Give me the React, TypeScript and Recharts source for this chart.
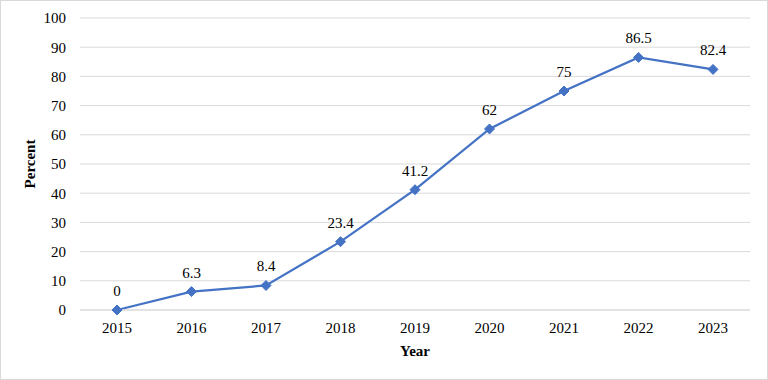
import { LineChart, Line, XAxis, YAxis, CartesianGrid } from 'recharts'

const years = ['2015', '2016', '2017', '2018', '2019', '2020', '2021', '2022', '2023']
const percent = [0, 6.3, 8.4, 23.4, 41.2, 62, 75, 86.5, 82.4]
const yTicks = [0, 10, 20, 30, 40, 50, 60, 70, 80, 90, 100]

const data = years.map((year, i) => ({ year, percent: percent[i] }))

const font = '"Liberation Serif", "Times New Roman", serif'

function Diamond(props: any) {
  const { cx, cy } = props
  if (cx == null || cy == null) return null
  const r = 5
  return (
    <path
      d={`M${cx},${cy - r} L${cx + r},${cy} L${cx},${cy + r} L${cx - r},${cy} Z`}
      fill="#4472C4"
      stroke="#4472C4"
    />
  )
}

function XTick(props: any) {
  const { x, y, payload } = props
  return (
    <text x={x} y={y} dy="0.71em" textAnchor="middle" fill="#000" fontSize={15} fontFamily={font}>
      {payload.value}
    </text>
  )
}

function YTick(props: any) {
  const { x, y, payload } = props
  return (
    <text x={x} y={y} dy="0.355em" textAnchor="end" fill="#000" fontSize={15} fontFamily={font}>
      {payload.value}
    </text>
  )
}

function PointLabel(props: any) {
  const { x, y, value } = props
  if (x == null || y == null) return null
  return (
    <text x={x} y={y} dy={-14} textAnchor="middle" fill="#000" fontSize={15} fontFamily={font}>
      {value}
    </text>
  )
}

export default function App() {
  return (
    <div
      style={{
        position: 'absolute',
        left: 0,
        top: 0,
        width: 768,
        height: 380,
        background: '#fff',
        fontFamily: font,
      }}
    >
      <LineChart
        width={768}
        height={380}
        data={data}
        margin={{ top: 18, right: 18, left: 0, bottom: 0 }}
      >
        <CartesianGrid vertical={false} stroke="#d9d9d9" />
        <XAxis
          dataKey="year"
          height={70}
          padding={{ left: 37, right: 37 }}
          stroke="#d9d9d9"
          tickLine={false}
          tickSize={6}
          tickMargin={6}
          tick={<XTick />}
          label={{
            value: 'Year',
            position: 'insideBottom',
            offset: 24,
            style: { fill: '#000', fontSize: 15, fontWeight: 'bold', fontFamily: font },
          }}
        />
        <YAxis
          width={80}
          domain={[0, 100]}
          ticks={yTicks}
          axisLine={false}
          tickLine={false}
          tickSize={6}
          tickMargin={8}
          tick={<YTick />}
          label={{
            value: 'Percent',
            angle: -90,
            position: 'insideLeft',
            offset: 30,
            style: { fill: '#000', fontSize: 15, fontWeight: 'bold', fontFamily: font, textAnchor: 'middle' },
          }}
        />
        <Line
          type="linear"
          dataKey="percent"
          stroke="#4472C4"
          strokeWidth={2.25}
          dot={<Diamond />}
          activeDot={false}
          label={<PointLabel />}
          isAnimationActive={false}
        />
      </LineChart>
      <div
        style={{
          position: 'absolute',
          left: 0,
          top: 0,
          width: 768,
          height: 380,
          boxSizing: 'border-box',
          border: '1px solid #d9d9d9',
          pointerEvents: 'none',
        }}
      />
    </div>
  )
}
